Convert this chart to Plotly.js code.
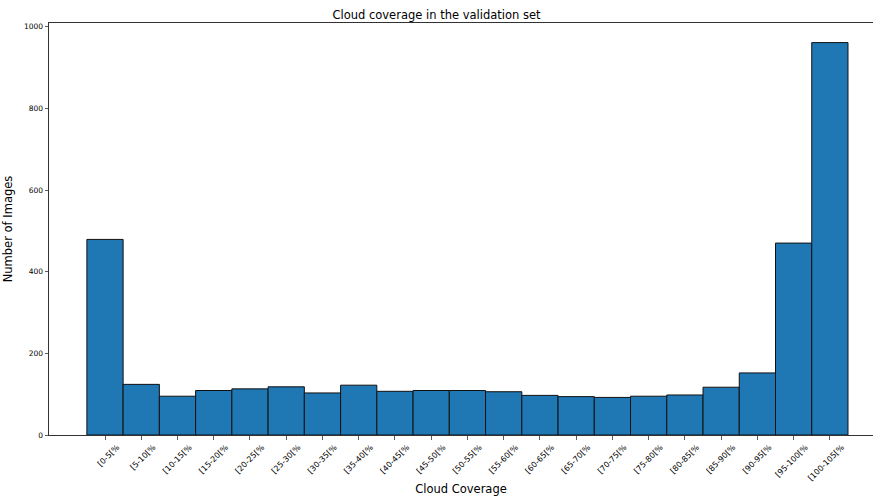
<!DOCTYPE html>
<html>
<head>
<meta charset="utf-8">
<script src="https://cdn.plot.ly/plotly-3.0.1.min.js"></script>
<style>html,body{margin:0;padding:0;background:#fff;}#chart{width:873px;height:498px;}</style>
</head>
<body>
<div id="chart"></div>
<script>
const categories = ["[0-5[%","[5-10[%","[10-15[%","[15-20[%","[20-25[%","[25-30[%","[30-35[%","[35-40[%","[40-45[%","[45-50[%","[50-55[%","[55-60[%","[60-65[%","[65-70[%","[70-75[%","[75-80[%","[80-85[%","[85-90[%","[90-95[%","[95-100[%","[100-105[%"];
const counts = [479,124,95,109,113,118,103,122,107,109,109,106,97,94,92,95,98,117,152,470,961];
const yTicks = [0,200,400,600,800,1000];

const font = "DejaVu Sans, sans-serif";
Plotly.newPlot("chart", [{
  type: "bar",
  x: categories,
  y: counts,
  width: 1,
  marker: {color: "#1f77b4", line: {color: "#111111", width: 1}},
  hoverinfo: "x+y"
}], {
  width: 873, height: 498,
  margin: {l: 49, r: 0, t: 23, b: 63, pad: 0},
  paper_bgcolor: "#fff", plot_bgcolor: "#fff",
  bargap: 0,
  showlegend: false,
  title: {text: "Cloud coverage in the validation set", font: {family: font, size: 11.5, color: "#000"}, x: 0.5, xanchor: "center", y: 0.970, yanchor: "middle"},
  xaxis: {
    type: "category",
    range: [-1.545, 21.19],
    showgrid: false, zeroline: false,
    showline: true, linecolor: "#333", linewidth: 1, mirror: true,
    ticks: "outside", ticklen: 3.5, tickcolor: "#333", tickwidth: 0.8,
    tickangle: -45,
    ticklabelshift: 12,
    tickfont: {family: font, size: 8, color: "#000"},
    title: {text: "Cloud Coverage", font: {family: font, size: 11.5, color: "#000"}, standoff: 3}
  },
  yaxis: {
    range: [0, 1009],
    tickvals: yTicks,
    showgrid: false, zeroline: false,
    showline: true, linecolor: "#333", linewidth: 1, mirror: true,
    ticks: "outside", ticklen: 3.5, tickcolor: "#333", tickwidth: 0.8,
    tickfont: {family: font, size: 7.5, color: "#000"},
    title: {text: "Number of Images", font: {family: font, size: 11.5, color: "#000"}, standoff: 8}
  }
}, {displayModeBar: false, staticPlot: true});
</script>
</body>
</html>
